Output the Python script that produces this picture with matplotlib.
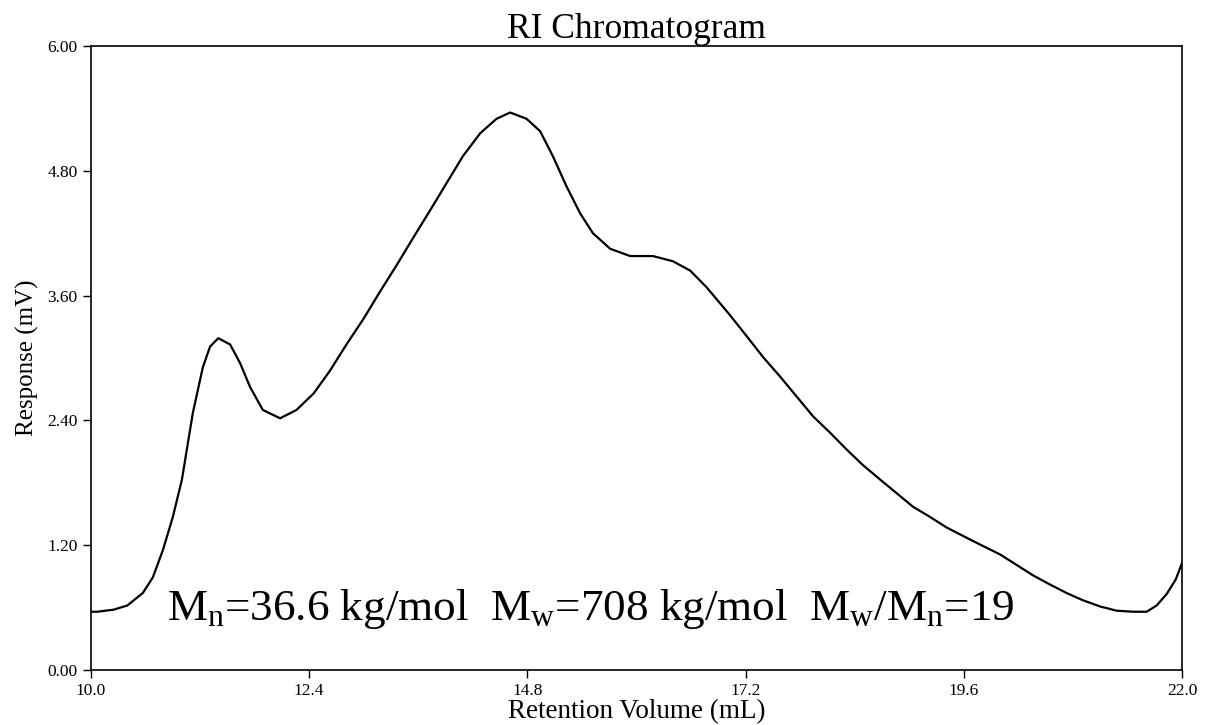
import matplotlib.pyplot as plt

# retention volume (mL) and RI response (mV)
volume = [10.00, 10.07, 10.25, 10.40, 10.57, 10.68, 10.79, 10.90, 11.00, 11.12,
          11.23, 11.31, 11.40, 11.53, 11.64, 11.75, 11.89, 12.08, 12.26, 12.45,
          12.63, 12.81, 13.00, 13.18, 13.36, 13.54, 13.73, 13.91, 14.09, 14.28,
          14.46, 14.61, 14.79, 14.94, 15.08, 15.23, 15.38, 15.52, 15.71, 15.93,
          16.18, 16.40, 16.59, 16.77, 17.02, 17.22, 17.39, 17.58, 17.76, 17.94,
          18.13, 18.31, 18.49, 18.68, 18.86, 19.04, 19.23, 19.41, 19.70, 20.00,
          20.18, 20.36, 20.55, 20.73, 20.91, 21.10, 21.28, 21.46, 21.61, 21.72,
          21.83, 21.93, 22.00]
response = [0.56, 0.56, 0.58, 0.62, 0.74, 0.89, 1.15, 1.47, 1.83, 2.47,
            2.91, 3.11, 3.19, 3.13, 2.95, 2.72, 2.50, 2.42, 2.50, 2.66,
            2.88, 3.13, 3.38, 3.64, 3.89, 4.15, 4.42, 4.68, 4.94, 5.16,
            5.30, 5.36, 5.30, 5.18, 4.94, 4.65, 4.39, 4.20, 4.05, 3.98,
            3.98, 3.93, 3.84, 3.68, 3.42, 3.20, 3.01, 2.82, 2.63, 2.44,
            2.28, 2.12, 1.97, 1.83, 1.70, 1.57, 1.47, 1.37, 1.24, 1.11,
            1.01, 0.91, 0.82, 0.74, 0.67, 0.61, 0.57, 0.56, 0.56, 0.62,
            0.73, 0.87, 1.03]

x_ticks = [10.0, 12.4, 14.8, 17.2, 19.6, 22.0]
y_ticks = [0.00, 1.20, 2.40, 3.60, 4.80, 6.00]

plt.rcParams['font.family'] = ['Liberation Serif', 'DejaVu Serif']
plt.rcParams['mathtext.fontset'] = 'custom'
plt.rcParams['mathtext.rm'] = 'Liberation Serif'
plt.rcParams['mathtext.it'] = 'Liberation Serif:italic'

fig = plt.figure(figsize=(12.05, 7.25), dpi=100)
ax = fig.add_axes([0.0755, 0.0759, 0.9055, 0.8607])

ax.plot(volume, response, color='black', linewidth=1.6,
        solid_joinstyle='round')

ax.set_xlim(10, 22)
ax.set_ylim(0, 6)
ax.set_xticks(x_ticks)
ax.set_xticklabels(['%.1f' % t for t in x_ticks])
ax.set_yticks(y_ticks)
ax.set_yticklabels(['%.2f' % t for t in y_ticks])
ax.tick_params(direction='out', length=6, width=1, labelsize=12.5, colors='black')
for s in ax.spines.values():
    s.set_linewidth(1.2)

ax.set_title('RI Chromatogram', fontsize=25.5, pad=6)
ax.set_xlabel('Retention Volume (mL)', fontsize=19.5, labelpad=0)
ax.set_ylabel('Response (mV)', fontsize=18, labelpad=6)

ax.text(10.84, 0.48,
        r'$\mathrm{M_n}$=36.6 kg/mol  $\mathrm{M_w}$=708 kg/mol  $\mathrm{M_w}$/$\mathrm{M_n}$=19',
        fontsize=32.5, va='baseline', ha='left')

fig.savefig('out.png', dpi=100)
